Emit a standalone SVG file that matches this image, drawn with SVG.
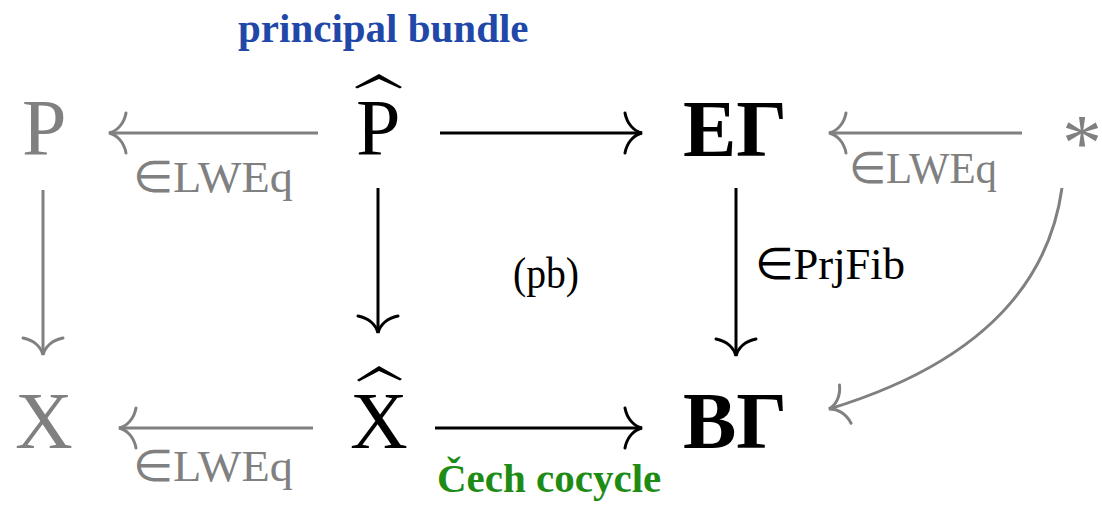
<svg xmlns="http://www.w3.org/2000/svg" width="1102" height="508" viewBox="0 0 1102 508">
<style>
.node{font-family:"Liberation Serif","Times New Roman",serif;font-size:80px}
.bold{font-weight:bold}
.g{fill:#808080}
.k{fill:#000}
.lbl{font-family:"Liberation Serif","Times New Roman",serif;font-size:44px}
.title{font-family:"Liberation Serif","Times New Roman",serif;font-size:41px;font-weight:bold}
.ag{stroke:#808080;stroke-width:3;fill:none}
.ak{stroke:#000;stroke-width:3;fill:none}
</style>
<defs>
<marker id="hg" viewBox="-22 -24 26 48" markerWidth="26" markerHeight="48" refX="0" refY="0" orient="auto" markerUnits="userSpaceOnUse" overflow="visible">
<path d="M-17,-20 C-15,-9 -8,-2 0,0 C-8,2 -15,9 -17,20" fill="none" stroke="#808080" stroke-width="3" stroke-linecap="round"/>
</marker>
<marker id="hk" viewBox="-22 -24 26 48" markerWidth="26" markerHeight="48" refX="0" refY="0" orient="auto" markerUnits="userSpaceOnUse" overflow="visible">
<path d="M-17,-20 C-15,-9 -8,-2 0,0 C-8,2 -15,9 -17,20" fill="none" stroke="#000" stroke-width="3" stroke-linecap="round"/>
</marker>
</defs>
<g id="connectors">
<line class="ag" x1="318" y1="133" x2="109" y2="133" marker-end="url(#hg)"/>
<line class="ak" x1="440" y1="133" x2="642" y2="133" marker-end="url(#hk)"/>
<line class="ag" x1="1022" y1="133" x2="829" y2="133" marker-end="url(#hg)"/>
<line class="ag" x1="43" y1="190" x2="43" y2="355" marker-end="url(#hg)"/>
<line class="ak" x1="378" y1="188" x2="378" y2="333" marker-end="url(#hk)"/>
<line class="ak" x1="736" y1="188" x2="736" y2="356" marker-end="url(#hk)"/>
<line class="ag" x1="313" y1="428" x2="119" y2="428" marker-end="url(#hg)"/>
<line class="ak" x1="435" y1="428" x2="642" y2="428" marker-end="url(#hk)"/>
<path class="ag" d="M1062,188 Q1040,345 829,409" marker-end="url(#hg)"/>
<text class="lbl g" x="133" y="192" textLength="160" lengthAdjust="spacingAndGlyphs">∈LWEq</text>
<text class="lbl g" x="849" y="183" textLength="148" lengthAdjust="spacingAndGlyphs">∈LWEq</text>
<text class="lbl g" x="133" y="481" textLength="160" lengthAdjust="spacingAndGlyphs">∈LWEq</text>
<text class="lbl k" x="755" y="279" textLength="150" lengthAdjust="spacingAndGlyphs">∈PrjFib</text>
</g>
<g id="P"><text class="node g" x="22" y="155">P</text></g>
<g id="Phat">
<path d="M355,87 L379,74 L402,87 L400,88.5 L379,79 L357,88.5 Z" fill="#000"/>
<text class="node k" x="356" y="155">P</text>
</g>
<g id="EGamma"><text class="node bold k" x="683" y="156">EΓ</text></g>
<g id="star"><text class="node g" x="1062" y="170">*</text></g>
<g id="X"><text class="node g" x="15" y="448">X</text></g>
<g id="Xhat">
<path d="M357,380 L379,366 L402,379 L400,380.5 L379,371 L359,381.5 Z" fill="#000"/>
<text class="node k" x="350" y="448">X</text>
</g>
<g id="BGamma"><text class="node bold k" x="683" y="448">BΓ</text></g>
<g id="pb"><text class="lbl k" x="513" y="288" textLength="66" lengthAdjust="spacingAndGlyphs">(pb)</text></g>
<g id="principal"><text class="title" x="238" y="42" fill="#1f48a8">principal bundle</text></g>
<g id="cech"><text class="title" x="437" y="492" fill="#1e8c14">Čech cocycle</text></g>
</svg>
